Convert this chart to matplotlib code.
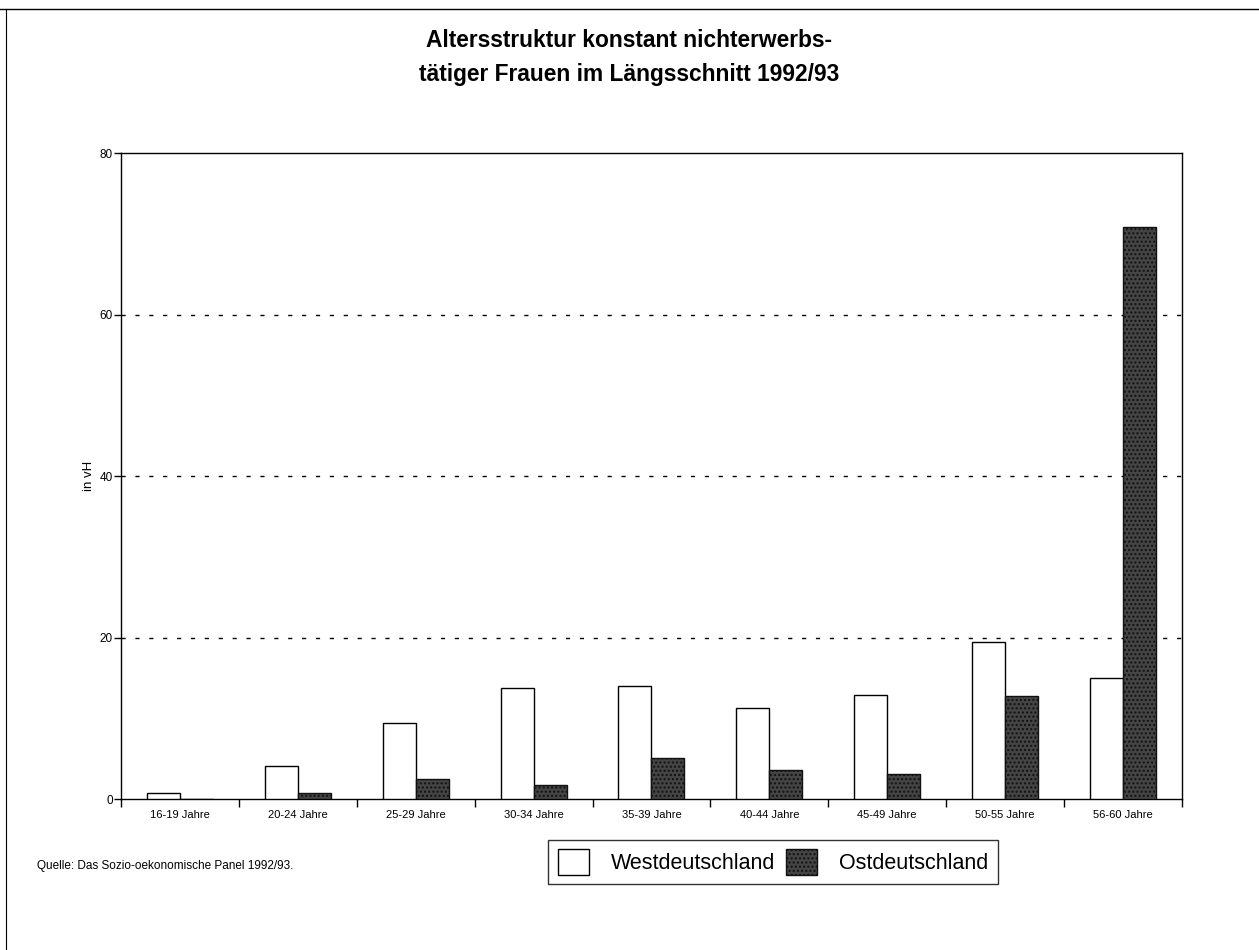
import numpy as np
import matplotlib
matplotlib.use("Agg")
import matplotlib.pyplot as plt
from matplotlib.patches import Patch
from matplotlib.lines import Line2D

plt.rcParams['font.family'] = ['Liberation Sans', 'DejaVu Sans']
plt.rcParams['hatch.color'] = '#8a8a8a'

# Daten (in vH)
kategorien = ['16-19 Jahre', '20-24 Jahre', '25-29 Jahre', '30-34 Jahre', '35-39 Jahre',
              '40-44 Jahre', '45-49 Jahre', '50-55 Jahre', '56-60 Jahre']
west = [0.8, 4.1, 9.4, 13.8, 14.0, 11.3, 12.9, 19.4, 15.0]
ost = [0.0, 0.7, 2.5, 1.7, 5.1, 3.6, 3.1, 12.7, 70.8]

fig = plt.figure(figsize=(12.59, 9.5), dpi=100)
ax = fig.add_axes([0.0961, 0.1589, 0.8427, 0.68])

x = np.arange(len(kategorien))
breite = 0.28
ax.bar(x - breite / 2, west, breite, color='white', edgecolor='black', linewidth=1.0,
       label='Westdeutschland', zorder=3)
ax.bar(x + breite / 2, ost, breite, color='#444444', edgecolor='#111111', linewidth=1.0,
       hatch='....', label='Ostdeutschland', zorder=3)

ax.set_xlim(-0.5, len(kategorien) - 0.5)
ax.set_ylim(0, 80)
ax.set_yticks([0, 20, 40, 60, 80])
ax.tick_params(axis='y', labelsize=8.5, direction='out', length=5, width=1, pad=1)
for y in [20, 40, 60]:
    ax.axhline(y, color='black', linewidth=1.0, linestyle=(0, (3, 7)), zorder=1)

# Ticks zwischen den Kategorien, Labels in der Mitte
ax.set_xticks(np.arange(len(kategorien) + 1) - 0.5)
ax.set_xticklabels([])
ax.set_xticks(x, minor=True)
ax.set_xticklabels(kategorien, minor=True, fontsize=8)
ax.tick_params(axis='x', which='major', direction='out', length=6, width=1)
ax.tick_params(axis='x', which='minor', length=0, pad=8)

for s in ax.spines.values():
    s.set_linewidth(1.0)

ax.set_ylabel('in vH', fontsize=9.5, labelpad=3)

fig.text(0.5, 0.957, 'Altersstruktur konstant nichterwerbs-', ha='center', va='center',
         fontsize=16.4, fontweight='bold')
fig.text(0.5, 0.922, 'tätiger Frauen im Längsschnitt 1992/93', ha='center', va='center',
         fontsize=16.4, fontweight='bold')

fig.text(0.029, 0.088, 'Quelle: Das Sozio-oekonomische Panel 1992/93.', fontsize=8.5,
         ha='left', va='center')

handles = [Patch(facecolor='white', edgecolor='black', linewidth=1.0),
           Patch(facecolor='#444444', edgecolor='#111111', hatch='....', linewidth=1.0)]
leg = fig.legend(handles, ['Westdeutschland', 'Ostdeutschland'], loc='center',
                 bbox_to_anchor=(0.614, 0.0926), ncol=2, fontsize=15.5, frameon=True,
                 fancybox=False, handlelength=1.45, handleheight=1.45, columnspacing=0.5,
                 handletextpad=1.0, borderpad=0.45)
leg.get_frame().set_edgecolor('black')
leg.get_frame().set_linewidth(1.0)

# Rahmen der Seite
fig.add_artist(Line2D([0.0, 1.0], [0.991, 0.991], color='black', linewidth=1.0,
                      transform=fig.transFigure))
fig.add_artist(Line2D([0.005, 0.005], [0.0, 0.991], color='black', linewidth=0.8,
                      transform=fig.transFigure))

fig.savefig('out.png', dpi=100)
